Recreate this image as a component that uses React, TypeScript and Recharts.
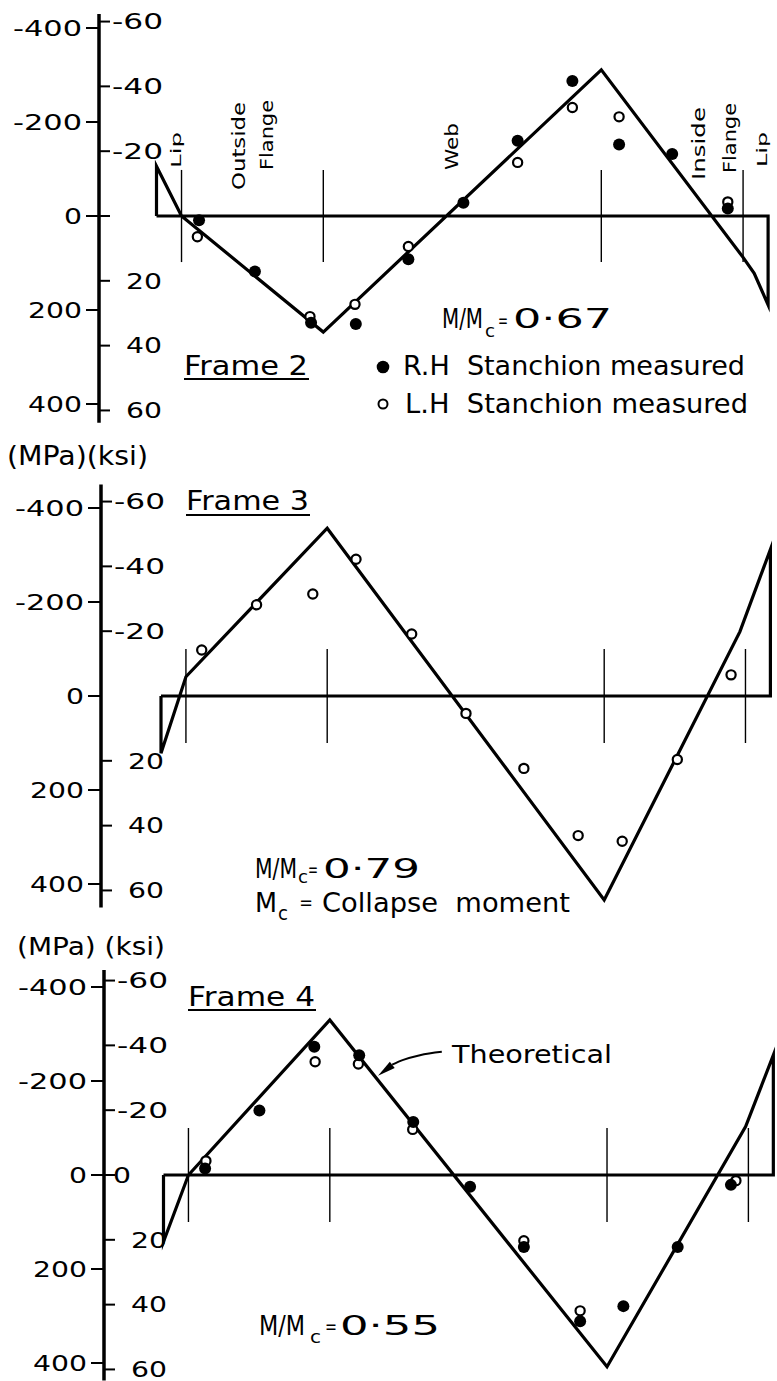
import React from 'react';
import { ComposedChart, Line, Scatter, XAxis, YAxis, ReferenceLine, ReferenceDot } from 'recharts';

const FONT = '"DejaVu Sans", Verdana, sans-serif';
const W = 777;
const PX_PER_MPA = 0.47;
const MPA_PER_KSI = 6.895;

// Developed cross-section: lip | outside flange | web | inside flange | lip
const sectionEnds = [0, 22];
const sectionBoundaries = [0.9, 6, 16, 21.1];

const mpaTicks = [-400, -200, 0, 200, 400];
const ksiTicksNoZero = [-60, -40, -20, 20, 40, 60];
const ksiTicksZero = [-60, -40, -20, 0, 20, 40, 60];

// Frame 2 (M/Mc = 0.67)
const frame2Theory = [
  { x: 0, y: -106 }, { x: 0.9, y: 0 }, { x: 6, y: 247 }, { x: 16, y: -311 },
  { x: 21.1, y: 88 }, { x: 21.5, y: 122 }, { x: 22, y: 189 },
];
const frame2RH = [
  { x: 1.53, y: 9 }, { x: 3.54, y: 118 }, { x: 5.56, y: 227 }, { x: 7.17, y: 230 },
  { x: 9.06, y: 92 }, { x: 11.04, y: -28 }, { x: 12.99, y: -160 }, { x: 14.96, y: -287 },
  { x: 16.64, y: -152 }, { x: 18.55, y: -132 }, { x: 20.55, y: -16 },
];
const frame2LH = [
  { x: 1.47, y: 44 }, { x: 5.52, y: 214 }, { x: 7.14, y: 188 }, { x: 9.06, y: 65 },
  { x: 12.99, y: -114 }, { x: 14.96, y: -231 }, { x: 16.64, y: -211 }, { x: 20.55, y: -30 },
];

// Frame 3 (M/Mc = 0.79)
const frame3Theory = [
  { x: 0, y: 122 }, { x: 0.9, y: -41 }, { x: 6, y: -357 }, { x: 16, y: 434 },
  { x: 20.9, y: -137 }, { x: 22, y: -312 },
];
const frame3LH = [
  { x: 1.47, y: -98 }, { x: 3.45, y: -194 }, { x: 5.48, y: -217 }, { x: 7.04, y: -291 },
  { x: 9.05, y: -132 }, { x: 11.01, y: 37 }, { x: 13.1, y: 154 }, { x: 15.06, y: 297 },
  { x: 16.65, y: 309 }, { x: 18.64, y: 135 }, { x: 20.58, y: -45 },
];

// Frame 4 (M/Mc = 0.55)
const frame4Theory = [
  { x: 0, y: 142 }, { x: 0.9, y: 0 }, { x: 6, y: -330 }, { x: 16, y: 408 },
  { x: 21, y: -103 }, { x: 22, y: -255 },
];
const frame4RH = [
  { x: 1.5, y: -14 }, { x: 3.46, y: -137 }, { x: 5.44, y: -273 }, { x: 7.06, y: -255 },
  { x: 9.01, y: -113 }, { x: 11.06, y: 25 }, { x: 13.0, y: 153 }, { x: 15.03, y: 311 },
  { x: 16.59, y: 279 }, { x: 18.55, y: 153 }, { x: 20.47, y: 21 },
];
const frame4LH = [
  { x: 1.53, y: -30 }, { x: 5.47, y: -241 }, { x: 7.03, y: -236 }, { x: 8.99, y: -97 },
  { x: 13.0, y: 140 }, { x: 15.03, y: 289 }, { x: 20.65, y: 12 },
];
const theoreticalPointer = [
  { x: 8.25, y: -235 }, { x: 8.65, y: -245 }, { x: 9.25, y: -255 }, { x: 10.04, y: -262 },
];
const theoreticalArrowTip = { x: 7.74, y: -211 };

type Pt = { x: number; y: number };
type Cfg = { top: number; height: number; zeroY: number; lo: number; hi: number; axisX: number; x0: number; ppu: number };

const cfg2: Cfg = { top: 0, height: 460, zeroY: 216, lo: -430, hi: 440, axisX: 99, x0: 156.5, ppu: 27.8 };
const cfg3: Cfg = { top: 460, height: 480, zeroY: 236, lo: -450, hi: 450, axisX: 101, x0: 161, ppu: 27.7 };
const cfg4: Cfg = { top: 940, height: 441, zeroY: 235, lo: -436, hi: 437, axisX: 104, x0: 163.5, ppu: 27.72 };

const labelWidth = (s: string) => {
  let w = 0;
  for (const ch of s) w += ch === '-' ? 15 : ch === ' ' ? 6 : 18;
  return w;
};

const TICK_FS = 21.5;

const MpaTick = (props: any) => {
  const { y, payload, axisX } = props;
  const label = String(payload.value);
  const w = labelWidth(label);
  const right = axisX - 17;
  return (
    <text x={right - w} y={y + 7.8} fontFamily={FONT} fontSize={TICK_FS} fill="#000"
      textLength={w} lengthAdjust="spacingAndGlyphs">{label}</text>
  );
};

const KsiTick = (props: any) => {
  const { y, payload, axisX, showZero } = props;
  const v = payload.value;
  if (v === 0 && !showZero) return <g />;
  const label = String(v);
  const w = labelWidth(label);
  const start = v < 0 ? axisX + 13 : v === 0 ? axisX + 9 : axisX + 27;
  return (
    <text x={start} y={y + 7.8} fontFamily={FONT} fontSize={TICK_FS} fill="#000"
      textLength={w} lengthAdjust="spacingAndGlyphs">{label}</text>
  );
};

const FilledDot = (p: any) => <circle cx={p.cx} cy={p.cy} r={6} fill="#000" />;
const OpenDot = (p: any) => <circle cx={p.cx} cy={p.cy} r={4.6} fill="#fff" stroke="#000" strokeWidth={2.2} />;

const ArrowHead = (p: any) => {
  const { cx, cy } = p;
  const dx = -0.79, dy = 0.61, len = 18, half = 4;
  const bx = cx - dx * len, by = cy - dy * len;
  const nx = -dy, ny = dx;
  return (
    <polygon points={`${cx},${cy} ${bx + nx * half},${by + ny * half} ${bx - nx * half},${by - ny * half}`} fill="#000" />
  );
};

function Frame(props: {
  cfg: Cfg; theory: Pt[]; rh?: Pt[]; lh?: Pt[]; ksiTicks: number[]; showKsiZero: boolean;
  tickHalf: number; children?: React.ReactNode;
}) {
  const { cfg, theory, rh, lh, ksiTicks, showKsiZero, tickHalf, children } = props;
  const marginTop = cfg.zeroY + cfg.lo * PX_PER_MPA;
  const plotH = (cfg.hi - cfg.lo) * PX_PER_MPA;
  const marginBottom = cfg.height - marginTop - plotH;
  const xlo = (cfg.axisX - cfg.x0) / cfg.ppu;
  const xhi = (W - cfg.x0) / cfg.ppu;
  const outline = [
    { x: sectionEnds[0], y: 0 },
    { x: sectionEnds[1], y: 0 },
    ...theory.slice().reverse(),
    { x: sectionEnds[0], y: 0 },
  ];
  return (
    <div style={{ position: 'absolute', left: 0, top: cfg.top }}>
      <ComposedChart width={W} height={cfg.height}
        margin={{ top: marginTop, right: 0, bottom: marginBottom, left: 0 }}>
        <XAxis type="number" dataKey="x" domain={[xlo, xhi]} hide allowDataOverflow />
        <YAxis yAxisId="mpa" type="number" orientation="left" width={cfg.axisX} reversed
          domain={[cfg.lo, cfg.hi]} allowDataOverflow ticks={mpaTicks} interval={0} tickSize={13}
          axisLine={{ stroke: '#000', strokeWidth: 3.5 }} tickLine={{ stroke: '#000', strokeWidth: 2 }}
          tick={<MpaTick axisX={cfg.axisX} />} />
        <YAxis yAxisId="ksi" type="number" orientation="left" mirror width={60} reversed
          domain={[cfg.lo / MPA_PER_KSI, cfg.hi / MPA_PER_KSI]} allowDataOverflow ticks={ksiTicks}
          interval={0} tickSize={11} axisLine={false} tickLine={{ stroke: '#000', strokeWidth: 2 }}
          tick={<KsiTick axisX={cfg.axisX} showZero={showKsiZero} />} />
        {sectionBoundaries.map((b) => (
          <ReferenceLine key={b} yAxisId="mpa" segment={[{ x: b, y: -tickHalf }, { x: b, y: tickHalf }]}
            stroke="#000" strokeWidth={1.4} />
        ))}
        <Line yAxisId="mpa" data={outline} dataKey="y" type="linear" stroke="#000" strokeWidth={3.2}
          dot={false} activeDot={false} isAnimationActive={false} strokeLinejoin="miter" strokeMiterlimit={6} />
        {children}
        {lh ? <Scatter yAxisId="mpa" name="L.H Stanchion measured" data={lh} dataKey="y" shape={OpenDot} isAnimationActive={false} /> : null}
        {rh ? <Scatter yAxisId="mpa" name="R.H Stanchion measured" data={rh} dataKey="y" shape={FilledDot} isAnimationActive={false} /> : null}
      </ComposedChart>
    </div>
  );
}

const T = (p: { x: number; y: number; w: number; fs?: number; children: React.ReactNode }) => (
  <text x={p.x} y={p.y} fontFamily={FONT} fontSize={p.fs ?? 27} fill="#000" textLength={p.w}
    lengthAdjust="spacingAndGlyphs" style={{ whiteSpace: 'pre' }}>{p.children}</text>
);

// one text element made of absolutely positioned pieces (for subscripts)
type Piece = { s: string; x: number; y: number; w: number; fs: number };
const MT = (p: { pieces: Piece[] }) => (
  <text fontFamily={FONT} fill="#000" style={{ whiteSpace: 'pre' }}>
    {p.pieces.map((q, i) => (
      <tspan key={i} x={q.x} y={q.y} fontSize={q.fs} textLength={q.w} lengthAdjust="spacingAndGlyphs">{q.s}</tspan>
    ))}
  </text>
);

const RT = (p: { bx: number; sy: number; w: number; fs?: number; children: React.ReactNode }) => (
  <text transform={`translate(${p.bx},${p.sy}) rotate(-90)`} x={0} y={0} fontFamily={FONT}
    fontSize={p.fs ?? 18} fill="#000" textLength={p.w} lengthAdjust="spacingAndGlyphs">{p.children}</text>
);

function Annotations() {
  return (
    <svg width={W} height={1381} style={{ position: 'absolute', left: 0, top: 0, pointerEvents: 'none' }}>
      {/* Frame 2 */}
      <RT bx={181} sy={168} w={36} fs={14}>Lip</RT>
      <RT bx={245} sy={190} w={88}>Outside</RT>
      <RT bx={273} sy={170} w={70}>Flange</RT>
      <RT bx={458} sy={170} w={47}>Web</RT>
      <RT bx={705} sy={180} w={73}>Inside</RT>
      <RT bx={736} sy={173} w={70}>Flange</RT>
      <RT bx={767} sy={167} w={35} fs={14}>Lip</RT>
      <T x={184} y={375} w={124} fs={26}>Frame 2</T>
      <line x1={184} y1={379} x2={309} y2={379} stroke="#000" strokeWidth={2} />
      <MT pieces={[
        { s: 'M/M', x: 442, y: 328, w: 41, fs: 27 },
        { s: 'c', x: 485, y: 337, w: 10, fs: 17 },
        { s: '=', x: 498, y: 327, w: 10, fs: 20 },
        { s: '0·67', x: 513, y: 328, w: 99, fs: 27 },
      ]} />
      <circle cx={383} cy={367} r={6.3} fill="#000" />
      <T x={403} y={375} w={342}>R.H  Stanchion measured</T>
      <circle cx={383} cy={404} r={4.5} fill="#fff" stroke="#000" strokeWidth={2} />
      <T x={405} y={413} w={343}>L.H  Stanchion measured</T>

      {/* Frame 3 */}
      <T x={7} y={465} w={141} fs={26}>(MPa)(ksi)</T>
      <T x={186} y={510} w={123} fs={26}>Frame 3</T>
      <line x1={186} y1={515} x2={310} y2={515} stroke="#000" strokeWidth={2} />
      <MT pieces={[
        { s: 'M/M', x: 255, y: 878, w: 42, fs: 27 },
        { s: 'c', x: 298, y: 883, w: 10, fs: 17 },
        { s: '=', x: 308, y: 876, w: 10, fs: 20 },
        { s: '0·79', x: 323, y: 878, w: 97, fs: 27 },
      ]} />
      <MT pieces={[
        { s: 'M', x: 255, y: 912, w: 22, fs: 27 },
        { s: 'c', x: 278, y: 920, w: 10, fs: 20 },
        { s: ' = ', x: 294, y: 909, w: 24, fs: 20 },
        { s: 'Collapse  moment', x: 322, y: 912, w: 248, fs: 27 },
      ]} />

      {/* Frame 4 */}
      <T x={17} y={955} w={148} fs={24}>(MPa) (ksi)</T>
      <T x={188} y={1006} w={127} fs={26}>Frame 4</T>
      <line x1={188} y1={1010} x2={316} y2={1010} stroke="#000" strokeWidth={2} />
      <T x={452} y={1063} w={160} fs={25}>Theoretical</T>
      <MT pieces={[
        { s: 'M/M', x: 259, y: 1335, w: 46, fs: 27 },
        { s: 'c', x: 310, y: 1343, w: 11, fs: 17 },
        { s: '=', x: 325, y: 1333, w: 12, fs: 20 },
        { s: '0·55', x: 340, y: 1335, w: 100, fs: 27 },
      ]} />
    </svg>
  );
}

export default function App() {
  return (
    <div style={{ position: 'absolute', left: 0, top: 0, width: W, height: 1381, background: '#fff', overflow: 'hidden' }}>
      <Frame cfg={cfg2} theory={frame2Theory} rh={frame2RH} lh={frame2LH} ksiTicks={ksiTicksZero} showKsiZero={false} tickHalf={98} />
      <Frame cfg={cfg3} theory={frame3Theory} lh={frame3LH} ksiTicks={ksiTicksNoZero} showKsiZero={false} tickHalf={100} />
      <Frame cfg={cfg4} theory={frame4Theory} rh={frame4RH} lh={frame4LH} ksiTicks={ksiTicksZero} showKsiZero={true} tickHalf={100}>
        <Line yAxisId="mpa" data={theoreticalPointer} dataKey="y" type="monotone" stroke="#000" strokeWidth={2}
          dot={false} activeDot={false} isAnimationActive={false} />
        <ReferenceDot yAxisId="mpa" x={theoreticalArrowTip.x} y={theoreticalArrowTip.y} shape={ArrowHead} />
      </Frame>
      <Annotations />
    </div>
  );
}
